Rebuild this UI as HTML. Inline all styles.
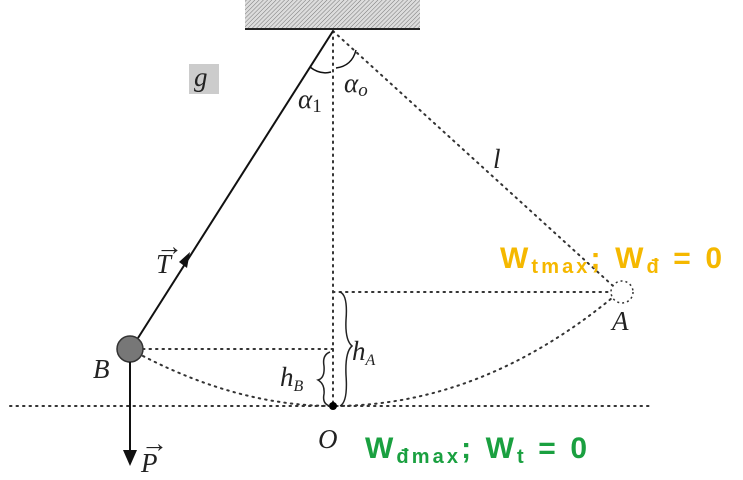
<!DOCTYPE html>
<html><head><meta charset="utf-8"><style>
body{margin:0;width:743px;height:480px;background:#fff;overflow:hidden}
svg{display:block}
.m{font-family:"Liberation Serif",serif;font-style:italic;font-size:27px;fill:#222}
.b{font-family:"Liberation Sans",sans-serif;font-weight:bold;font-size:30px}
</style></head><body>
<svg width="743" height="480" viewBox="0 0 743 480">
<defs>
<pattern id="h" width="3" height="3" patternUnits="userSpaceOnUse" patternTransform="rotate(45)">
<rect width="3" height="3" fill="#ddd"/><line x1="0" y1="0" x2="0" y2="3" stroke="#777" stroke-width="1"/></pattern>
</defs>
<rect x="245" y="0" width="175" height="28" fill="url(#h)"/>
<line x1="245" y1="29" x2="420" y2="29" stroke="#222" stroke-width="2"/>
<g stroke="#333" stroke-width="2" stroke-dasharray="1.5 5" fill="none" stroke-linecap="round">
<line x1="333" y1="31" x2="333" y2="406"/>
<line x1="333" y1="31" x2="612" y2="285"/>
<line x1="10" y1="406" x2="650" y2="406"/>
<line x1="143" y1="349" x2="333" y2="349"/>
<line x1="333" y1="292" x2="610" y2="292"/>
<path d="M143 356 Q240 406 333 406 Q480 406 612 298"/>
</g>
<circle cx="622" cy="292" r="11" fill="#fff" stroke="#333" stroke-width="1.5" stroke-dasharray="2 3"/>
<line x1="333" y1="31" x2="138" y2="338" stroke="#111" stroke-width="2"/>
<polygon points="190,252 179,262 187,268" fill="#111"/>
<path d="M310 67 Q320 75 331 72" stroke="#111" stroke-width="1.5" fill="none"/>
<path d="M336 68 Q352 66 356 50" stroke="#111" stroke-width="1.5" fill="none"/>
<circle cx="130" cy="349" r="13" fill="#777" stroke="#333" stroke-width="1.5"/>
<line x1="130" y1="362" x2="130" y2="452" stroke="#111" stroke-width="2"/>
<polygon points="123,450 137,450 130,466" fill="#111"/>
<circle cx="333" cy="406" r="4" fill="#000"/>
<path d="M340 292 Q348 295 346 320 Q345 340 352 346 Q345 352 346 375 Q348 402 340 406" stroke="#222" stroke-width="1.5" fill="none"/>
<path d="M330 352 Q322 355 324 366 Q325 378 318 380 Q325 384 324 394 Q322 404 330 406" stroke="#222" stroke-width="1.5" fill="none"/>
<rect x="189" y="64" width="30" height="30" fill="#ccc"/>
<text class="m" x="194" y="86">g</text>
<text class="m" x="298" y="108" font-size="30">α<tspan font-size="19" dy="4" font-style="normal">1</tspan></text>
<text class="m" x="344" y="92" font-size="30">α<tspan font-size="19" dy="4">o</tspan></text>
<text class="m" x="493" y="168">l</text>
<text class="m" x="156" y="273">T</text>
<text class="m" x="156" y="255" font-size="18" font-style="normal">→</text>
<text class="m" x="141" y="472">P</text>
<text class="m" x="141" y="452" font-size="18" font-style="normal">→</text>
<text class="m" x="93" y="378">B</text>
<text class="m" x="612" y="330">A</text>
<text class="m" x="318" y="448">O</text>
<text class="m" x="280" y="386">h<tspan font-size="16" dy="5">B</tspan></text>
<text class="m" x="352" y="360">h<tspan font-size="16" dy="5">A</tspan></text>
<text class="b" x="500" y="268" fill="#f5b800" textLength="222" lengthAdjust="spacing">W<tspan font-size="20" dy="5">tmax</tspan><tspan dy="-5">; W</tspan><tspan font-size="20" dy="5">đ</tspan><tspan dy="-5"> = 0</tspan></text>
<text class="b" x="365" y="458" fill="#1aa040" textLength="222" lengthAdjust="spacing">W<tspan font-size="20" dy="5">đmax</tspan><tspan dy="-5">; W</tspan><tspan font-size="20" dy="5">t</tspan><tspan dy="-5"> = 0</tspan></text>
</svg>
</body></html>
